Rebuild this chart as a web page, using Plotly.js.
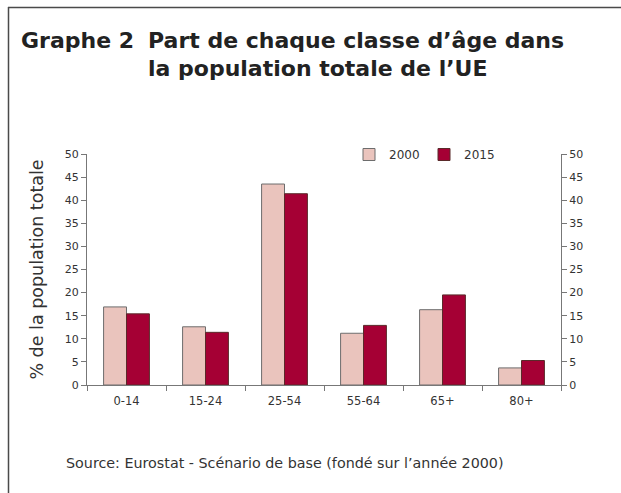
<!DOCTYPE html>
<html>
<head>
<meta charset="utf-8">
<script src="https://cdn.plot.ly/plotly-3.0.1.min.js"></script>
<style>html,body{margin:0;padding:0;background:#fff;}#chart{width:621px;height:493px;}</style>
</head>
<body>
<div id="chart"></div>
<script>
const categories = ["0-14", "15-24", "25-54", "55-64", "65+", "80+"];
const values2000 = [16.9, 12.6, 43.5, 11.2, 16.3, 3.7];
const values2015 = [15.4, 11.4, 41.4, 12.9, 19.5, 5.3];
const seriesNames = ["2000", "2015"];
const yTicks = [0, 5, 10, 15, 20, 25, 30, 35, 40, 45, 50];

const W = 621, H = 493;
const L = 87, R = 561, T = 154, B = 385;
const pw = R - L, ph = B - T;
const px = v => (v - L) / pw;
const py = v => (B - v) / ph;

const fontFam = "DejaVu Sans, Verdana, sans-serif";
const txt = "#333333";

const traces = [
  {type: "bar", name: seriesNames[0], x: categories, y: values2000,
   marker: {color: "#EAC4BD", line: {color: "#6d6d6d", width: 1}}},
  {type: "bar", name: seriesNames[1], x: categories, y: values2015,
   marker: {color: "#A50034", line: {color: "#5a2a2a", width: 1}}},
  {type: "scatter", x: categories, y: categories.map(() => null), yaxis: "y2",
   showlegend: false, hoverinfo: "skip", mode: "markers"}
];

const layout = {
  width: W, height: H,
  margin: {l: L, r: W - R, t: T, b: H - B, pad: 0},
  paper_bgcolor: "#ffffff", plot_bgcolor: "#ffffff",
  font: {family: fontFam, size: 11, color: txt},
  barmode: "group", bargap: 0.42, bargroupgap: 0,
  showlegend: true,
  legend: {orientation: "h", x: px(349), y: py(140), xanchor: "left", yanchor: "top",
           font: {size: 12, color: txt}, bgcolor: "rgba(0,0,0,0)",
           entrywidth: 30, entrywidthmode: "pixels", traceorder: "normal"},
  xaxis: {type: "category", showline: true, linecolor: "#777", linewidth: 1,
          ticks: "outside", tickson: "boundaries", ticklen: 5, tickcolor: "#777",
          showgrid: false, zeroline: false, ticklabelstandoff: 5,
          tickfont: {size: 11.5, color: txt}},
  yaxis: {range: [0, 50], tickvals: yTicks, ticktext: yTicks.map(String),
          showline: true, linecolor: "#777", linewidth: 1, ticks: "outside",
          ticklen: 5, tickcolor: "#777", showgrid: false, zeroline: false,
          tickfont: {size: 11, color: txt},
          title: {text: "% de la population totale", font: {size: 17.5, color: txt}, standoff: 16}},
  yaxis2: {range: [0, 50], tickvals: yTicks, ticktext: yTicks.map(String),
           overlaying: "y", side: "right", showline: true, linecolor: "#777", linewidth: 1,
           ticks: "outside", ticklen: 5, tickcolor: "#777", showgrid: false, zeroline: false,
           tickfont: {size: 11, color: txt}},
  shapes: [
    {type: "line", xref: "paper", yref: "paper", x0: px(8), x1: px(621), y0: py(7.5), y1: py(7.5),
     line: {color: "#4a4a4a", width: 1.5}},
    {type: "line", xref: "paper", yref: "paper", x0: px(8.5), x1: px(8.5), y0: py(7), y1: py(493),
     line: {color: "#4a4a4a", width: 1.5}}
  ],
  annotations: [
    {text: "<b>Graphe 2</b>", xref: "paper", yref: "paper", x: px(19), y: py(40),
     xanchor: "left", yanchor: "middle", showarrow: false,
     font: {family: fontFam, size: 22, color: "#222"}},
    {text: "<b>Part de chaque classe d’âge dans</b>", xref: "paper", yref: "paper", x: px(146), y: py(40),
     xanchor: "left", yanchor: "middle", showarrow: false,
     font: {family: fontFam, size: 22, color: "#222"}},
    {text: "<b>la population totale de l’UE</b>", xref: "paper", yref: "paper", x: px(146), y: py(69),
     xanchor: "left", yanchor: "middle", showarrow: false,
     font: {family: fontFam, size: 22, color: "#222"}},
    {text: "Source: Eurostat - Scénario de base (fondé sur l’année 2000)", xref: "paper", yref: "paper",
     x: px(64), y: py(463), xanchor: "left", yanchor: "middle", showarrow: false,
     font: {family: fontFam, size: 14.3, color: txt}}
  ]
};

Plotly.newPlot("chart", traces, layout, {displayModeBar: false, staticPlot: true});
</script>
</body>
</html>
